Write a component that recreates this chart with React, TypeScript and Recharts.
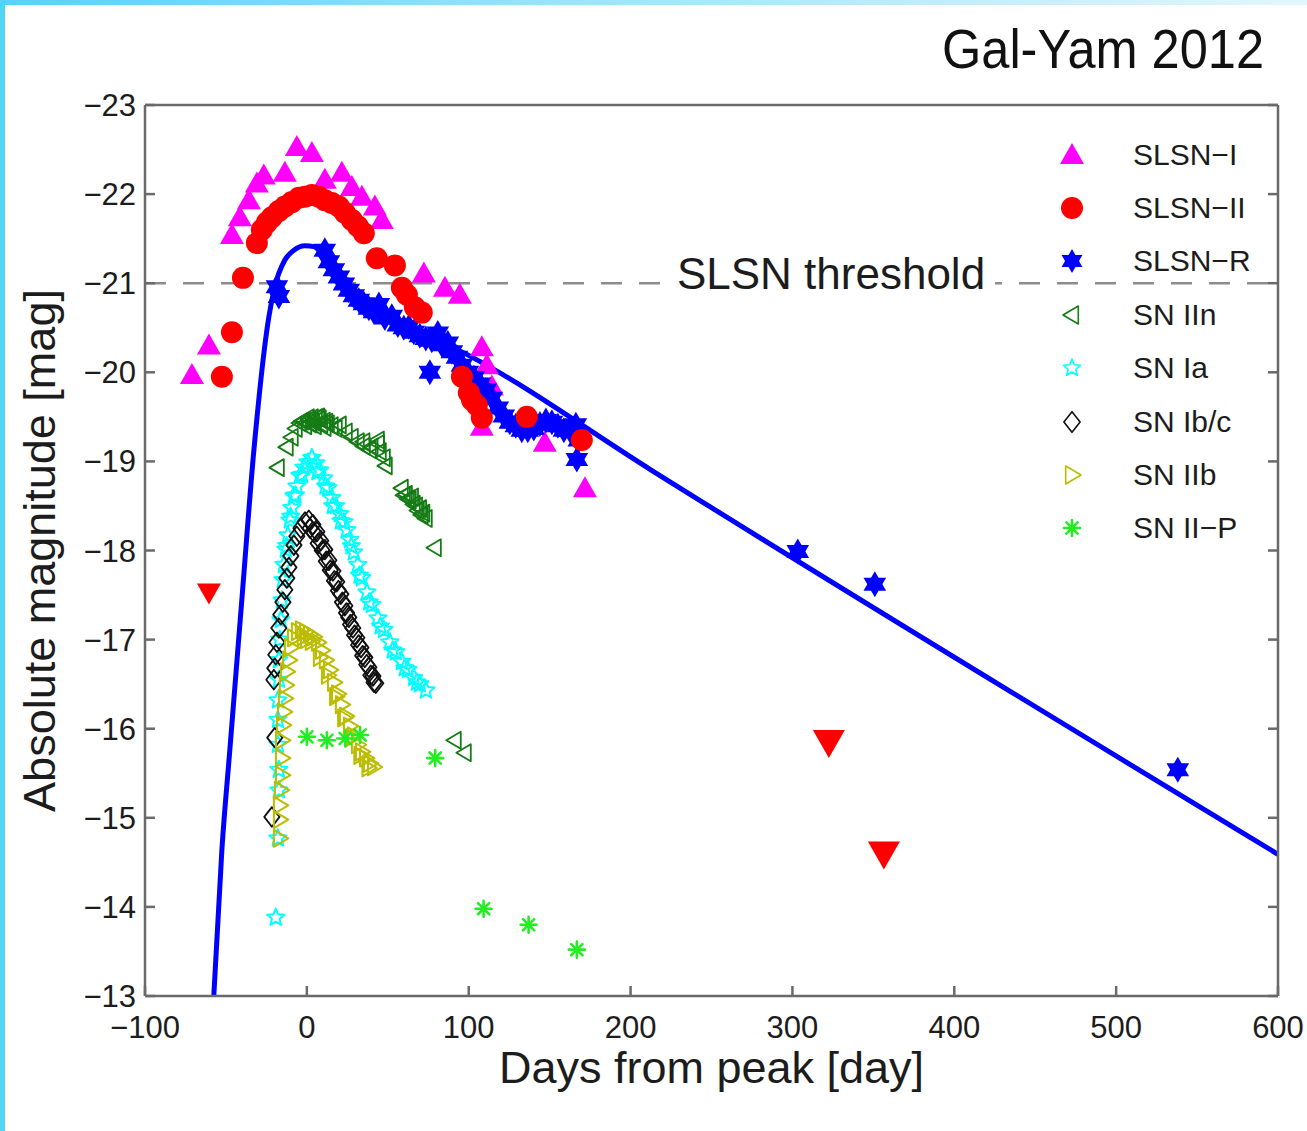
import { ComposedChart, Legend, Line, ReferenceLine, Scatter, XAxis, YAxis } from 'recharts';

const DAY_TICKS = [-100, 0, 100, 200, 300, 400, 500, 600];
const MAG_TICKS = [-23, -22, -21, -20, -19, -18, -17, -16, -15, -14, -13];
const THRESHOLD = -21;

// [days from peak, absolute magnitude]
const slsnI: [number, number][] = [
  [-71.0, -19.97], [-60.5, -20.3], [-46.3, -21.54], [-41.4, -21.74], [-35.8, -21.93],
  [-30.9, -22.12], [-26.6, -22.21], [-13.6, -22.24], [-6.2, -22.53], [3.1, -22.46],
  [11.1, -22.16], [21.6, -22.24], [27.8, -22.08], [34.0, -21.97], [42.0, -21.86],
  [46.3, -21.71], [72.3, -21.11], [85.3, -20.95], [94.5, -20.87], [108.1, -20.28],
  [111.2, -20.08], [114.3, -19.84], [108.1, -19.39], [147.0, -19.21], [171.8, -18.7],
];

const slsnII: [number, number][] = [
  [-52.5, -19.95], [-46.3, -20.45], [-39.5, -21.06], [-30.9, -21.45], [-27.8, -21.6],
  [-24.7, -21.68], [-21.6, -21.74], [-17.3, -21.81], [-13.6, -21.86], [-9.3, -21.91],
  [-4.9, -21.96], [-1.2, -21.97], [3.1, -21.99], [7.4, -21.97], [11.1, -21.93],
  [15.4, -21.9], [19.8, -21.86], [23.5, -21.79], [27.8, -21.71], [31.5, -21.64],
  [35.2, -21.56], [43.2, -21.28], [54.4, -21.2], [58.7, -20.95], [61.8, -20.87],
  [66.7, -20.73], [71.0, -20.67], [95.8, -19.95], [100.1, -19.77], [102.0, -19.69],
  [105.0, -19.63], [108.1, -19.49], [135.9, -19.5], [169.9, -19.24],
];

const slsnIIEarlyLimit: [number, number][] = [[-60.5, -17.53]];
const slsnIILateLimits: [number, number][] = [[322.5, -15.85], [356.5, -14.6]];

const slsnR: [number, number][] = [
  [-18.5, -20.96], [-17.3, -20.85], [11.1, -21.37], [13.6, -21.24], [16.7, -21.15],
  [19.8, -21.07], [22.9, -20.99], [25.9, -20.92], [29.0, -20.86], [32.1, -20.81],
  [35.2, -20.77], [38.3, -20.72], [41.4, -20.68], [44.5, -20.76], [48.2, -20.61],
  [52.5, -20.63], [56.2, -20.53], [59.9, -20.5], [63.0, -20.51], [66.1, -20.45],
  [69.8, -20.41], [73.5, -20.38], [77.2, -20.36], [80.9, -20.44], [83.4, -20.31],
  [87.1, -20.33], [89.6, -20.23], [92.7, -20.17], [76.0, -20.0], [95.8, -20.08],
  [99.5, -20.0], [103.2, -19.94], [106.9, -19.87], [110.6, -19.8], [114.3, -19.71],
  [118.0, -19.6], [121.7, -19.51], [125.4, -19.44], [129.1, -19.4], [132.8, -19.35],
  [136.5, -19.35], [140.2, -19.37], [144.0, -19.42], [147.7, -19.46], [151.4, -19.44],
  [155.1, -19.4], [158.8, -19.35], [162.5, -19.35], [166.2, -19.41], [168.0, -19.24],
  [166.8, -19.02], [303.3, -17.99], [350.9, -17.62], [538.1, -15.54],
];

// model light curve drawn through the SLSN-R points
const slsnRModel: [number, number][] = [
  [-57.5, -13.0], [-52.5, -14.64], [-47.6, -15.76], [-40.2, -17.44], [-32.7, -19.13],
  [-23.5, -20.62], [-19.8, -20.96], [-13.6, -21.26], [-8.0, -21.37], [-1.2, -21.42],
  [4.3, -21.41], [9.3, -21.33], [25.0, -21.0], [60.0, -20.55], [102.0, -20.17],
  [213.0, -18.9], [600.0, -14.59],
];

const snIIn: [number, number][] = [
  [-17.9, -18.93], [-12.4, -19.16], [-9.3, -19.27], [-6.8, -19.37], [-4.3, -19.43],
  [-1.9, -19.46], [0.6, -19.49], [3.1, -19.49], [5.6, -19.49], [8.0, -19.48],
  [10.5, -19.45], [13.0, -19.42], [15.4, -19.4], [17.9, -19.37], [20.4, -19.41],
  [24.1, -19.33], [27.8, -19.27], [31.5, -19.22], [35.2, -19.17], [38.9, -19.13],
  [43.9, -19.24], [45.1, -19.11], [47.6, -19.04], [48.8, -18.95], [58.7, -18.7],
  [61.2, -18.63], [63.6, -18.57], [66.1, -18.52], [68.6, -18.45], [71.0, -18.4],
  [73.5, -18.36], [79.1, -18.03], [91.4, -15.87], [97.6, -15.73],
  [-3.0, -19.45], [-1.0, -19.4], [1.5, -19.47], [2.0, -19.42], [4.0, -19.44],
  [5.0, -19.4], [7.0, -19.5], [9.0, -19.42], [11.0, -19.38], [12.0, -19.44],
  [60.0, -18.62], [62.5, -18.58], [65.0, -18.6], [67.5, -18.5], [70.0, -18.47],
  [72.0, -18.42], [35.0, -19.22], [40.0, -19.16], [44.0, -19.2],
];

const snIa: [number, number][] = [
  [3.1, -19.04], [5.6, -18.98], [8.0, -18.9], [10.5, -18.81], [13.0, -18.7],
  [15.4, -18.59], [17.9, -18.5], [20.4, -18.41], [22.9, -18.32], [24.7, -18.23],
  [26.6, -18.12], [29.0, -17.98], [31.5, -17.84], [34.0, -17.69], [37.1, -17.53],
  [40.2, -17.39], [43.9, -17.24], [47.6, -17.11], [51.3, -16.97], [55.0, -16.86],
  [58.7, -16.75], [62.4, -16.66], [66.1, -16.57], [69.8, -16.5], [73.5, -16.43],
  [0.6, -18.99], [-1.9, -18.93], [-4.3, -18.84], [-6.2, -18.72], [-8.0, -18.61],
  [-9.3, -18.48], [-10.5, -18.34], [-11.7, -18.17], [-13.0, -18.01], [-14.2, -17.84],
  [-14.8, -17.67], [-15.4, -17.44], [-16.1, -17.22], [-16.7, -17.0], [-17.3, -16.77],
  [-17.3, -16.55], [-17.9, -16.32], [-17.9, -16.1], [-17.9, -15.82], [-17.3, -15.54],
  [-17.3, -15.31], [-17.9, -14.77], [-19.2, -13.88],
  [6.5, -18.88], [11.5, -18.72], [16.0, -18.5], [21.0, -18.33], [27.5, -18.05],
  [32.5, -17.72], [38.5, -17.42], [45.5, -17.15], [53.0, -16.88], [60.5, -16.68],
  [68.0, -16.52], [-3.0, -18.85], [-7.0, -18.62], [-10.0, -18.38], [-12.5, -18.05],
];

const snIbc: [number, number][] = [
  [1.2, -18.34], [3.7, -18.29], [6.2, -18.21], [8.6, -18.11], [11.1, -18.01],
  [13.6, -17.89], [16.1, -17.77], [18.5, -17.65], [21.0, -17.51], [23.5, -17.38],
  [25.9, -17.25], [28.4, -17.13], [30.9, -17.02], [33.4, -16.91], [35.8, -16.8],
  [38.3, -16.69], [40.8, -16.59], [42.6, -16.51], [-1.2, -18.32], [-3.7, -18.25],
  [-6.2, -18.16], [-8.0, -18.06], [-9.9, -17.94], [-11.1, -17.81], [-12.4, -17.69],
  [-13.6, -17.56], [-14.8, -17.42], [-16.1, -17.28], [-17.3, -17.13], [-18.5, -16.97],
  [-19.2, -16.83], [-19.8, -16.68], [-20.4, -16.55], [-19.8, -15.9], [-21.6, -15.01],
  [4.5, -18.2], [9.5, -18.0], [14.5, -17.78], [19.5, -17.55], [24.5, -17.3],
  [29.5, -17.05], [34.5, -16.82], [39.5, -16.6], [2.0, -18.25], [7.0, -18.08],
  [12.0, -17.88], [17.0, -17.66], [22.0, -17.42], [27.0, -17.17], [32.0, -16.94],
  [37.0, -16.72], [41.5, -16.52],
];

const snIIb: [number, number][] = [
  [-3.1, -17.11], [-0.6, -17.09], [1.9, -17.06], [4.3, -17.03], [6.8, -16.97],
  [9.3, -16.88], [11.7, -16.77], [14.2, -16.66], [16.7, -16.52], [19.2, -16.39],
  [21.6, -16.27], [24.1, -16.14], [26.6, -16.03], [29.0, -15.92], [31.5, -15.82],
  [34.0, -15.74], [36.5, -15.67], [38.9, -15.61], [41.4, -15.57], [-5.6, -17.09],
  [-8.0, -17.02], [-9.9, -16.91], [-11.1, -16.77], [-12.4, -16.64], [-13.0, -16.49],
  [-13.6, -16.34], [-14.2, -16.19], [-14.8, -16.04], [-15.4, -15.87], [-15.4, -15.67],
  [-15.4, -15.48], [-16.1, -15.31], [-16.7, -15.14], [-16.7, -14.98], [-16.7, -14.77],
  [3.0, -16.98], [8.0, -16.8], [13.0, -16.6], [18.0, -16.36], [23.0, -16.12],
  [28.0, -15.9], [33.0, -15.7], [38.0, -15.56], [0.0, -17.0], [-2.0, -17.03],
];

const snIIP: [number, number][] = [
  [0.0, -15.91], [12.4, -15.87], [23.7, -15.89], [32.9, -15.93], [79.3, -15.67],
  [109.2, -13.98], [137.0, -13.8], [166.8, -13.52],
];

type Kind = 'triUp' | 'triDown' | 'triLeft' | 'triRight' | 'circle' | 'hexagram' | 'star5' | 'diamond' | 'asterisk';

interface MarkerProps {
  kind: Kind;
  cx: number;
  cy: number;
  r: number;
  color: string;
  sw?: number;
}

const poly = (pts: [number, number][]) => pts.map(([x, y]) => `${x},${y}`).join(' ');

function Marker({ kind, cx, cy, r, color, sw = 1.6 }: MarkerProps) {
  if (cx == null || cy == null) return null;
  const open = { fill: 'none', stroke: color, strokeWidth: sw, strokeLinejoin: 'round' as const };
  switch (kind) {
    case 'triUp':
      return <polygon points={poly([[cx, cy - r], [cx + r, cy + 0.75 * r], [cx - r, cy + 0.75 * r]])} fill={color} />;
    case 'triDown':
      return <polygon points={poly([[cx, cy + r], [cx + r, cy - 0.75 * r], [cx - r, cy - 0.75 * r]])} fill={color} />;
    case 'triLeft':
      return <polygon points={poly([[cx - r, cy], [cx + 0.7 * r, cy - r], [cx + 0.7 * r, cy + r]])} {...open} />;
    case 'triRight':
      return <polygon points={poly([[cx + r, cy], [cx - 0.7 * r, cy - r], [cx - 0.7 * r, cy + r]])} {...open} />;
    case 'circle':
      return <circle cx={cx} cy={cy} r={r} fill={color} />;
    case 'diamond':
      return <polygon points={poly([[cx, cy - 1.15 * r], [cx + 0.9 * r, cy], [cx, cy + 1.15 * r], [cx - 0.9 * r, cy]])} {...open} />;
    case 'hexagram':
      return (
        <g fill={color}>
          <polygon points={poly([[cx, cy - r], [cx + 0.87 * r, cy + 0.5 * r], [cx - 0.87 * r, cy + 0.5 * r]])} />
          <polygon points={poly([[cx, cy + r], [cx + 0.87 * r, cy - 0.5 * r], [cx - 0.87 * r, cy - 0.5 * r]])} />
        </g>
      );
    case 'star5': {
      const pts: [number, number][] = [];
      for (let i = 0; i < 10; i += 1) {
        const a = -Math.PI / 2 + (i * Math.PI) / 5;
        const rr = i % 2 === 0 ? r : r * 0.45;
        pts.push([cx + rr * Math.cos(a), cy + rr * Math.sin(a)]);
      }
      return <polygon points={poly(pts)} {...open} />;
    }
    case 'asterisk': {
      const d = r * 0.7;
      return (
        <g stroke={color} strokeWidth={2.6} strokeLinecap="round">
          <line x1={cx - r} y1={cy} x2={cx + r} y2={cy} />
          <line x1={cx} y1={cy - r} x2={cx} y2={cy + r} />
          <line x1={cx - d} y1={cy - d} x2={cx + d} y2={cy + d} />
          <line x1={cx - d} y1={cy + d} x2={cx + d} y2={cy - d} />
          <circle cx={cx} cy={cy} r={3} fill={color} stroke="none" />
        </g>
      );
    }
    default:
      return null;
  }
}

interface SeriesDef {
  name: string;
  rows: [number, number][];
  kind: Kind;
  color: string;
  r: number;
  sw: number;
  legendR: number;
}

const SLSN_I: SeriesDef = { name: 'SLSN\u2212I', rows: slsnI, kind: 'triUp', color: '#ff00ff', r: 12, sw: 0, legendR: 12 };
const SLSN_II: SeriesDef = { name: 'SLSN\u2212II', rows: slsnII, kind: 'circle', color: '#ff0000', r: 11, sw: 0, legendR: 11 };
const SLSN_R: SeriesDef = { name: 'SLSN\u2212R', rows: slsnR, kind: 'hexagram', color: '#0000ff', r: 13, sw: 0, legendR: 12 };
const SN_IIN: SeriesDef = { name: 'SN IIn', rows: snIIn, kind: 'triLeft', color: '#157c15', r: 8.5, sw: 1.8, legendR: 9 };
const SN_IA: SeriesDef = { name: 'SN Ia', rows: snIa, kind: 'star5', color: '#00ffff', r: 9, sw: 2, legendR: 9 };
const SN_IBC: SeriesDef = { name: 'SN Ib/c', rows: snIbc, kind: 'diamond', color: '#111111', r: 8.5, sw: 1.8, legendR: 9 };
const SN_IIB: SeriesDef = { name: 'SN IIb', rows: snIIb, kind: 'triRight', color: '#bcbc00', r: 8.5, sw: 2, legendR: 9 };
const SN_IIP: SeriesDef = { name: 'SN II\u2212P', rows: snIIP, kind: 'asterisk', color: '#22ee22', r: 8, sw: 2.6, legendR: 8 };

const LEGEND_ORDER = [SLSN_I, SLSN_II, SLSN_R, SN_IIN, SN_IA, SN_IBC, SN_IIB, SN_IIP];
const DRAW_ORDER = [SN_IIN, SN_IA, SN_IBC, SN_IIB, SN_IIP, SLSN_I, SLSN_R, SLSN_II];

const toPoints = (rows: [number, number][]) => rows.map(([day, mag]) => ({ day, mag }));
const minus = (v: number) => String(v).replace('-', '\u2212');

const AXIS = '#6a6a6a';
const INK = '#1c1c1c';
const FONT = '"Liberation Sans", Arial, Helvetica, sans-serif';

function LegendBox() {
  return (
    <div style={{ display: 'flex', flexDirection: 'column', fontFamily: FONT }}>
      {LEGEND_ORDER.map((s) => (
        <div key={s.name} style={{ display: 'flex', alignItems: 'center', height: 53.4 }}>
          <svg width={40} height={40} style={{ display: 'block' }}>
            <Marker kind={s.kind} cx={20} cy={20} r={s.legendR} color={s.color} sw={1.6} />
          </svg>
          <span style={{ marginLeft: 41, fontSize: 30, color: INK, lineHeight: 1 }}>{s.name}</span>
        </div>
      ))}
    </div>
  );
}

function ThresholdLabel(props: any) {
  const { x, y, width } = props.viewBox;
  const cx = x + width * 0.6055;
  return (
    <g>
      <rect x={cx - 164} y={y - 34} width={328} height={44} fill="#ffffff" />
      <text x={cx} y={y + 6} textAnchor="middle" fontSize={44} fill={INK} fontFamily={FONT}>
        SLSN threshold
      </text>
    </g>
  );
}

function YTitle(props: any) {
  const { x, y, height } = props.viewBox;
  const tx = x - 10;
  const ty = y + height / 2;
  return (
    <text x={tx} y={ty} transform={`rotate(-90 ${tx} ${ty})`} textAnchor="middle" fontSize={45} fill={INK} fontFamily={FONT}>
      Absolute magnitude [mag]
    </text>
  );
}

function XTitle(props: any) {
  const { x, y, width } = props.viewBox;
  return (
    <text x={x + width / 2} y={y + 87} textAnchor="middle" fontSize={45} fill={INK} fontFamily={FONT}>
      Days from peak [day]
    </text>
  );
}

const tickFont = { fontSize: 31, fill: INK, fontFamily: FONT };

export default function App() {
  return (
    <div style={{ position: 'relative', width: 1307, height: 1131, background: '#ffffff', overflow: 'hidden', fontFamily: FONT }}>
      <style>{'body{margin:0;background:#fff}'}</style>
      <ComposedChart width={1307} height={1131} margin={{ top: 104, right: 28, bottom: 75, left: 65 }}>
        <XAxis
          xAxisId="bottom"
          dataKey="day"
          type="number"
          domain={[-100, 600]}
          ticks={DAY_TICKS}
          allowDataOverflow
          height={60}
          stroke={AXIS}
          strokeWidth={2.5}
          tickSize={-10}
          tickMargin={30}
          tick={tickFont}
          tickFormatter={minus}
          interval={0}
          label={<XTitle />}
        />
        <XAxis
          xAxisId="top"
          orientation="top"
          type="number"
          domain={[-100, 600]}
          ticks={DAY_TICKS}
          allowDataOverflow
          height={1}
          stroke={AXIS}
          strokeWidth={2.5}
          tickSize={-10}
          tickFormatter={() => ''}
          interval={0}
        />
        <YAxis
          yAxisId="left"
          dataKey="mag"
          type="number"
          domain={[-23, -13]}
          reversed
          ticks={MAG_TICKS}
          allowDataOverflow
          width={80}
          stroke={AXIS}
          strokeWidth={2.5}
          tickSize={-10}
          tickMargin={19}
          tick={tickFont}
          tickFormatter={minus}
          interval={0}
          label={<YTitle />}
        />
        <YAxis
          yAxisId="right"
          orientation="right"
          type="number"
          domain={[-23, -13]}
          reversed
          ticks={MAG_TICKS}
          allowDataOverflow
          width={1}
          stroke={AXIS}
          strokeWidth={2.5}
          tickSize={-10}
          tickFormatter={() => ''}
          interval={0}
        />
        <ReferenceLine
          xAxisId="bottom"
          yAxisId="left"
          y={THRESHOLD}
          stroke="#8c8c8c"
          strokeWidth={2.5}
          strokeDasharray="21 17"
          label={<ThresholdLabel />}
        />
        <Line
          xAxisId="bottom"
          yAxisId="left"
          data={toPoints(slsnRModel)}
          dataKey="mag"
          type="monotone"
          stroke="#0000ff"
          strokeWidth={5}
          dot={false}
          activeDot={false}
          legendType="none"
          isAnimationActive={false}
        />
        {DRAW_ORDER.map((s) => (
          <Scatter
            key={s.name}
            name={s.name}
            xAxisId="bottom"
            yAxisId="left"
            data={toPoints(s.rows)}
            dataKey="mag"
            isAnimationActive={false}
            shape={(p: any) => <Marker kind={s.kind} cx={p.cx} cy={p.cy} r={s.r} color={s.color} sw={s.sw} />}
          />
        ))}
        <Scatter
          name="SLSN-II early limit"
          xAxisId="bottom"
          yAxisId="left"
          data={toPoints(slsnIIEarlyLimit)}
          dataKey="mag"
          legendType="none"
          isAnimationActive={false}
          shape={(p: any) => <Marker kind="triDown" cx={p.cx} cy={p.cy} r={12} color="#ff0000" />}
        />
        <Scatter
          name="SLSN-II late limits"
          xAxisId="bottom"
          yAxisId="left"
          data={toPoints(slsnIILateLimits)}
          dataKey="mag"
          legendType="none"
          isAnimationActive={false}
          shape={(p: any) => <Marker kind="triDown" cx={p.cx} cy={p.cy} r={16} color="#ff0000" />}
        />
        <Legend
          layout="vertical"
          align="center"
          verticalAlign="middle"
          content={<LegendBox />}
          wrapperStyle={{ position: 'absolute', left: 1052, top: 128, width: 250, right: 'auto', bottom: 'auto' }}
        />
      </ComposedChart>
      <svg width={1307} height={100} style={{ position: 'absolute', left: 0, top: 0 }}>
        <text
          x={1264}
          y={68}
          textAnchor="end"
          fontSize={56}
          fill="#111111"
          textLength={322}
          lengthAdjust="spacingAndGlyphs"
          fontFamily='"Liberation Sans Narrow", "Liberation Sans", Arial, sans-serif'
        >
          Gal-Yam 2012
        </text>
      </svg>
      <div style={{ position: 'absolute', left: 0, top: 0, width: 1307, height: 5, background: 'linear-gradient(90deg, #55d3f7 0%, #9fe4f8 45%, #e3f6fc 100%)' }} />
      <div style={{ position: 'absolute', left: 0, top: 0, width: 5, height: 1131, background: '#55d3f7' }} />
    </div>
  );
}
